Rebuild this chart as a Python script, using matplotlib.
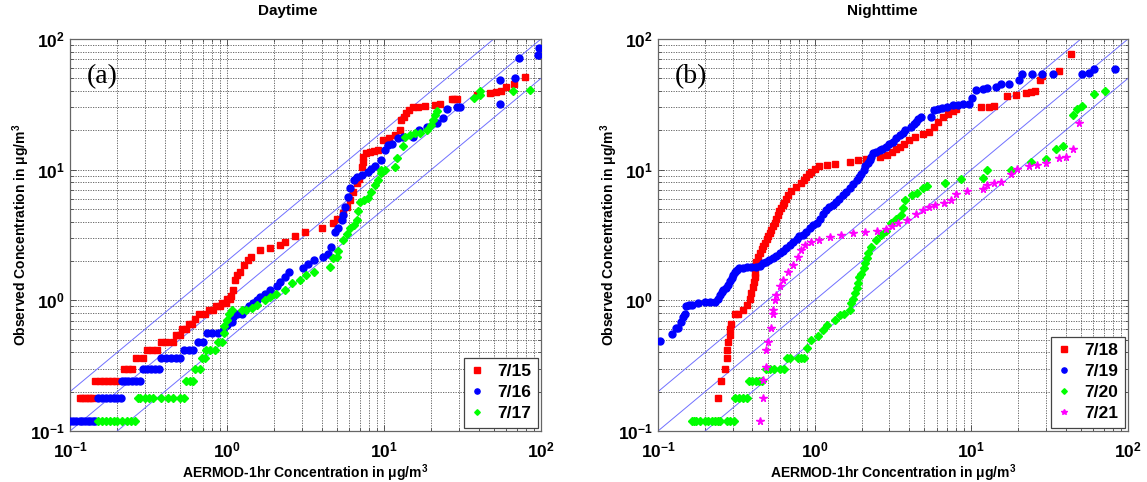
import matplotlib
matplotlib.use("Agg")
import matplotlib.pyplot as plt
import numpy as np

plt.rcParams['font.family'] = ['Liberation Sans', 'DejaVu Sans']
plt.rcParams['mathtext.fontset'] = 'custom'
plt.rcParams['mathtext.rm'] = 'Liberation Sans:bold'
plt.rcParams['mathtext.bf'] = 'Liberation Sans:bold'
plt.rcParams['mathtext.it'] = 'Liberation Sans:bold'

# ---------------- Daytime data ----------------
day15_x = [0.115, 0.12, 0.125, 0.13, 0.135, 0.14,
           0.145, 0.155, 0.165, 0.175, 0.185, 0.195,
           0.22, 0.235, 0.25, 0.265, 0.29, 0.31, 0.335, 0.36,
           0.38, 0.41, 0.45, 0.47, 0.5, 0.52, 0.55, 0.57, 0.6, 0.63,
           0.66, 0.72, 0.77, 0.82, 0.85, 0.9, 0.93, 0.98, 1.0, 1.05, 1.06,
           1.09, 1.12, 1.16, 1.21, 1.28, 1.36, 1.43, 1.62, 1.87, 2.17, 2.34,
           2.7, 3.15, 4.0, 4.7, 5.0, 5.5, 5.8, 6.1, 6.35, 6.7, 6.9, 7.2, 7.3,
           7.35, 7.7, 8.1, 8.6, 9.2, 9.9, 10.8, 11.8, 12.6, 12.9, 13.4, 13.9,
           14.5, 15.3, 16.5, 18.3, 21, 22.6, 27, 28, 29, 39, 47.5, 52, 56,
           59.5, 67.6, 79.5]
day15_y = [0.18, 0.18, 0.18, 0.18, 0.18, 0.18,
           0.24, 0.24, 0.24, 0.24, 0.24, 0.24,
           0.30, 0.30, 0.30, 0.36, 0.36, 0.42, 0.42, 0.42,
           0.48, 0.48, 0.48, 0.54, 0.54, 0.60, 0.60, 0.66, 0.66, 0.72,
           0.78, 0.78, 0.84, 0.84, 0.90, 0.90, 0.96, 0.96, 1.02, 1.02, 1.08,
           1.2, 1.43, 1.55, 1.65, 1.85, 2.04, 2.15, 2.43, 2.5, 2.65, 2.8,
           3.1, 3.35, 3.55, 3.9, 4.2, 4.65, 5.2, 5.86, 6.8, 7.9, 8.5, 10.5, 11.5,
           12.5, 13.5, 13.7, 13.9, 14.1, 16.9, 17.5, 18.5, 20, 24, 25.5, 27,
           28.5, 30, 30.3, 30.6, 31, 32, 34.5, 35, 35, 37, 38.6, 39, 40,
           43, 45, 51]

day16_x = [0.1, 0.105, 0.11, 0.115, 0.12, 0.125, 0.13, 0.135, 0.14, 0.145,
           0.15, 0.16, 0.17, 0.18, 0.19, 0.2, 0.21,
           0.215, 0.225, 0.235, 0.25, 0.265, 0.28,
           0.29, 0.31, 0.33, 0.35, 0.37,
           0.38, 0.41, 0.44, 0.47, 0.5,
           0.53, 0.57, 0.61, 0.65, 0.7,
           0.75, 0.8, 0.88, 0.94,
           1.0, 1.07, 1.09, 1.15, 1.24, 1.3, 1.38, 1.47, 1.55, 1.62, 1.75, 1.87,
           2.07, 2.17, 2.34, 2.5, 3.05, 3.3, 3.6, 4.1, 4.4, 4.6, 4.9, 5.1, 5.4,
           5.5, 5.65, 5.9, 6.1, 6.4, 6.7, 7.2, 7.9, 8.3, 8.8, 9.6, 10.1, 10.6,
           11.2, 12.3, 13.3, 15.4, 16.6, 18.8, 21.8, 23.9, 25.2, 29, 30.5,
           55, 55, 68, 72, 96, 97]
day16_y = [0.12] * 10 + [0.18] * 7 + [0.24] * 6 + [0.30] * 5 + [0.36] * 5 + \
          [0.42, 0.42, 0.42, 0.48, 0.48] + [0.56, 0.56, 0.56, 0.58] + \
          [0.65, 0.68, 0.75, 0.79, 0.79, 0.84, 0.9, 0.95, 1.0, 1.06, 1.12, 1.2,
           1.28, 1.37, 1.52, 1.65, 1.77, 1.9, 2.04, 2.15, 2.28, 2.58, 3.35, 3.55, 4.1,
           4.5, 5.2, 6.2, 7.2, 8.3, 8.8, 9.1, 9.6, 10.2, 10.6, 11.8, 14.1, 15.4,
           15.8, 17.4, 17.9, 17.9, 20, 21.3, 22.6, 24.8, 29, 30.4, 30.4,
           32, 48.6, 50, 72, 75, 85]

day17_x = [0.15, 0.16, 0.17, 0.18, 0.19, 0.2, 0.215, 0.23, 0.245, 0.26,
           0.27, 0.28, 0.3, 0.32, 0.34, 0.38, 0.42, 0.45, 0.5, 0.53,
           0.55, 0.58, 0.61, 0.63, 0.67, 0.69, 0.72, 0.74, 0.78, 0.84, 0.88, 0.93,
           0.95, 0.96, 1.0, 1.03, 1.07, 1.24, 1.33, 1.45, 1.55, 1.74, 1.87, 2.05,
           2.34, 2.6, 2.9, 3.2, 3.6, 4.5, 4.75, 5.0, 5.1, 5.5, 5.8, 6.1, 6.4, 6.7,
           6.8, 7.0, 7.5, 7.9, 8.3, 8.7, 9.1, 9.5, 9.6, 10.1, 11.8, 12.1, 13.2,
           13.6, 14.6, 15.8, 17, 18.8, 19.8, 20.5, 21, 21.7, 37.6, 40.6, 41,
           66, 84.5]
day17_y = [0.12] * 10 + [0.18] * 10 + [0.24, 0.24, 0.24, 0.30, 0.30, 0.36, 0.36,
           0.42, 0.42, 0.42, 0.48, 0.48] + \
          [0.56, 0.64, 0.71, 0.78, 0.84, 0.84, 0.84, 0.88, 0.92, 1.0, 1.06, 1.12,
           1.2, 1.36, 1.43, 1.55, 1.65, 1.8, 2.1, 2.15, 2.4, 2.9, 3.2, 3.56, 3.8, 4.15,
           4.8, 5.7, 5.9, 6.1, 6.8, 7.6, 8.3, 9.5, 10.0, 10.0, 10.4, 12.3, 15.1,
           17.9, 18.5, 19.2, 19.2, 20.2, 22, 24, 26.3, 27.9, 35.5, 37.6, 39.7,
           39.7, 41]

# ---------------- Nighttime data ----------------
n18_x = [0.239, 0.242, 0.254, 0.267, 0.274, 0.277, 0.28, 0.287, 0.29, 0.294,
         0.31, 0.324, 0.35, 0.37, 0.385, 0.395, 0.405, 0.41, 0.415, 0.415, 0.415,
         0.42, 0.435, 0.45, 0.46, 0.47, 0.48, 0.495, 0.505, 0.52, 0.53, 0.545,
         0.555, 0.57, 0.58, 0.595, 0.61, 0.625, 0.64, 0.66, 0.68, 0.71, 0.76,
         0.82, 0.85, 0.88, 0.92, 0.95, 1.0, 1.07, 1.19, 1.34, 1.67, 1.89, 2.14,
         2.6, 2.9, 3.1, 3.3, 3.5, 3.7, 4.0, 4.4, 4.9, 5.4, 5.8, 6.1, 6.6, 7.1,
         7.6, 8.0, 11.5, 13, 14, 17, 19.2, 22.3, 24, 25.5, 27.4, 28.3, 36.5, 43.2]
n18_y = [0.12, 0.18, 0.24, 0.30, 0.36, 0.42, 0.48, 0.54, 0.60, 0.66,
         0.78, 0.78, 0.84, 0.92, 1.02, 1.14, 1.26, 1.38, 1.5, 1.62, 1.8,
         1.98, 2.16, 2.3, 2.46, 2.6, 2.76, 2.94, 3.1, 3.3, 3.48, 3.7,
         3.9, 4.2, 4.5, 4.8, 5.1, 5.4, 5.6, 6.0, 6.4, 6.9, 7.4,
         7.9, 8.4, 8.8, 9.3, 9.6, 10.1, 10.6, 10.8, 11.0, 11.5, 11.8, 12.1,
         12.6, 12.9, 13.7, 14.3, 15, 15.8, 16.8, 17.9, 18.9, 19.3, 21.3, 23.3, 25.5, 26.5,
         27.9, 29, 30, 30.4, 30.6, 36.5, 37.5, 38.6, 39.5, 40, 48.6, 52, 56.5, 77]

n19_x = [0.103, 0.122, 0.13, 0.135, 0.141, 0.145, 0.148, 0.152, 0.158, 0.164,
         0.18, 0.199, 0.214, 0.23, 0.24, 0.248, 0.255, 0.26, 0.27, 0.28, 0.29,
         0.295, 0.3, 0.31, 0.32, 0.33, 0.35, 0.37, 0.395, 0.42, 0.445, 0.47,
         0.49, 0.51, 0.54, 0.57, 0.6, 0.63, 0.66, 0.7, 0.73, 0.77, 0.8, 0.84,
         0.88, 0.93, 0.98, 1.03, 1.08, 1.13, 1.18, 1.24, 1.3, 1.37, 1.44, 1.51,
         1.59, 1.67, 1.76, 1.85, 1.92, 1.99, 2.05, 2.1, 2.18, 2.25, 2.3, 2.35,
         2.45, 2.6, 2.7, 2.85, 3.0, 3.14, 3.3, 3.5, 3.65, 3.8, 4.1, 4.3, 4.45,
         4.6, 4.75, 5.5, 5.8, 6.1, 6.5, 7.0, 7.6, 8.2, 8.8, 9.6, 10.1, 10.7,
         11.8, 12.5, 14.3, 15.4, 17.5, 20.1, 21.1, 24.5, 28.3, 33, 51, 56, 60.5, 83]
n19_y = [0.49, 0.55, 0.61, 0.61, 0.68, 0.74, 0.79, 0.9, 0.92, 0.92,
         0.95, 0.97, 0.97, 0.97, 1.02, 1.1, 1.15, 1.2, 1.25, 1.3, 1.4,
         1.47, 1.55, 1.65, 1.72, 1.77, 1.78, 1.8, 1.8, 1.8, 1.82, 1.92,
         1.98, 2.03, 2.1, 2.2, 2.29, 2.4, 2.5, 2.65, 2.8, 2.95, 3.1, 3.15,
         3.35, 3.56, 3.75, 3.88, 4.2, 4.6, 4.9, 5.2, 5.4, 5.7, 6.0, 6.4,
         6.8, 7.2, 7.7, 8.3, 8.8, 9.3, 10.0, 10.6, 11.2, 11.8, 12.5, 13.3,
         13.7, 14.1, 14.5, 15, 15.7, 16.4, 17.4, 18.4, 19.2, 20, 21.3, 22.3, 23.3,
         24.4, 25.5, 25.5, 28.7, 29, 29.6, 30.3, 31, 31.5, 32, 32, 35.5, 40.6,
         41.7, 42, 43, 45.6, 45.6, 48.6, 53.7, 53.7, 53.7, 53.7, 53.7, 55, 58.5, 59]

n20_x = [0.165, 0.17, 0.175, 0.185, 0.2, 0.21, 0.22, 0.23, 0.24, 0.25, 0.275, 0.29, 0.305,
         0.31, 0.33, 0.35, 0.37,
         0.38, 0.40, 0.42, 0.44, 0.46,
         0.49, 0.52, 0.55, 0.6, 0.64,
         0.67, 0.7, 0.78, 0.82, 0.86,
         0.9, 0.95, 1.05, 1.13, 1.2, 1.34, 1.45, 1.55, 1.67, 1.71, 1.75, 1.8,
         1.85, 1.89, 1.93, 1.99, 2.05, 2.1, 2.15, 2.2, 2.3, 2.45, 2.66, 2.85,
         3.07, 3.3, 3.55, 3.66, 3.8, 4.2, 4.5, 4.9, 5.25, 6.8, 8.6, 11.8, 12.5,
         18, 23.9, 29.8, 34.6, 38.3, 44.5, 47.5, 51, 61, 71]
n20_y = [0.12] * 13 + [0.18] * 4 + [0.24] * 5 + [0.30] * 5 + [0.36] * 5 + \
        [0.43, 0.5, 0.53, 0.59, 0.65, 0.71, 0.77, 0.79, 0.84, 0.95, 1.03, 1.13,
         1.25, 1.35, 1.5, 1.6, 1.77, 1.93, 2.1, 2.29, 2.58, 2.9, 3.15, 3.4,
         3.88, 4.2, 4.5, 5.1, 5.86, 6.4, 6.6, 7.2, 7.5, 7.9, 8.5, 8.7, 10,
         10, 11.5, 12, 14.5, 15.1, 26.3, 29, 30.8, 38.2, 40]

n21_x = [0.447, 0.47, 0.47, 0.49, 0.49, 0.5, 0.53, 0.54, 0.545, 0.555, 0.57,
         0.6, 0.63, 0.675, 0.73, 0.78, 0.82, 0.865, 0.95, 1.07, 1.25, 1.47,
         1.75, 2.1, 2.5, 2.85, 3.1, 3.4, 3.9, 4.45, 4.9, 5.4, 5.9, 6.7, 7.4,
         8.0, 9.4, 11.8, 12.6, 14, 15.5, 17.9, 19.6, 23.4, 26.4, 29.8, 36.2,
         40, 44.5, 49]
n21_y = [0.12, 0.18, 0.245, 0.31, 0.42, 0.48, 0.61, 0.79, 0.84, 1.0, 1.1,
         1.28, 1.43, 1.65, 1.86, 2.15, 2.42, 2.65, 2.8, 2.9, 3.05, 3.15,
         3.26, 3.33, 3.42, 3.5, 3.7, 3.9, 4.15, 4.6, 4.95, 5.15, 5.35, 5.6, 5.86,
         6.5, 6.9, 7.1, 7.6, 7.9, 8.1, 9.2, 10.2, 10.6, 10.8, 11.3, 12.3,
         12.6, 14.5, 22.6]

day_labels = ['7/15', '7/16', '7/17']
night_labels = ['7/18', '7/19', '7/20', '7/21']
tick_vals = [0.1, 1, 10, 100]
tick_labels = [r'$\mathbf{10^{-1}}$', r'$\mathbf{10^{0}}$', r'$\mathbf{10^{1}}$', r'$\mathbf{10^{2}}$']

fig = plt.figure(figsize=(11.47, 4.82), dpi=100)
axL = fig.add_axes([70 / 1147, 51 / 482, 471 / 1147, 392 / 482])
axR = fig.add_axes([658 / 1147, 51 / 482, 470 / 1147, 392 / 482])

line_col = '#7070ff'
for ax in (axL, axR):
    ax.set_xscale('log')
    ax.set_yscale('log')
    ax.set_xlim(0.1, 100)
    ax.set_ylim(0.1, 100)
    ref = np.array([0.01, 1000.0])
    ax.plot(ref, ref, color=line_col, lw=0.7, zorder=2)
    ax.plot(ref, 2 * ref, color=line_col, lw=0.7, zorder=2)
    ax.plot(ref, 0.5 * ref, color=line_col, lw=0.7, zorder=2)
    ax.grid(True, which='both', linestyle=(0, (1.5, 1.5)), color='#555555', lw=0.6, zorder=0)
    ax.set_axisbelow(True)
    ax.set_xticks(tick_vals)
    ax.set_xticklabels(tick_labels)
    ax.set_yticks(tick_vals)
    ax.set_yticklabels(tick_labels)
    ax.tick_params(which='both', direction='in', top=True, right=True, labelsize=12.5, width=0.6,
                   colors='#444444', labelcolor='black')
    ax.tick_params(axis='x', which='major', pad=7)
    ax.tick_params(which='major', length=4)
    ax.tick_params(which='minor', length=2.5)
    for s in ax.spines.values():
        s.set_color('#666666')
        s.set_linewidth(0.9)
    ax.set_xlabel(r'AERMOD-1hr Concentration in $\mathbf{\mu}$g/m$^{\mathbf{3}}$',
                  fontsize=10, fontweight='bold', labelpad=1)
    ax.set_ylabel(r'Observed Concentration in $\mathbf{\mu}$g/m$^{\mathbf{3}}$',
                  fontsize=10, fontweight='bold', labelpad=-1)

msq = dict(linestyle='none', zorder=3)
axL.plot(day15_x, day15_y, 's', color='#ff0000', ms=5, mec='#ff0000', label=day_labels[0], **msq)
axL.plot(day16_x, day16_y, 'o', color='#0000ff', ms=5, mec='#0000ff', label=day_labels[1], **msq)
axL.plot(day17_x, day17_y, 'D', color='#00ff00', ms=3.8, mec='#00ff00', label=day_labels[2], **msq)

axR.plot(n18_x, n18_y, 's', color='#ff0000', ms=5, mec='#ff0000', label=night_labels[0], **msq)
axR.plot(n19_x, n19_y, 'o', color='#0000ff', ms=5, mec='#0000ff', label=night_labels[1], **msq)
axR.plot(n20_x, n20_y, 'D', color='#00ff00', ms=3.8, mec='#00ff00', label=night_labels[2], **msq)
axR.plot(n21_x, n21_y, '*', color='#ff00ff', ms=5.5, mec='#ff00ff', label=night_labels[3], **msq)

axL.set_title('Daytime', fontsize=11, fontweight='bold', pad=17, x=0.463)
axR.set_title('Nighttime', fontsize=11, fontweight='bold', pad=17, x=0.477)

axL.text(0.035, 0.905, '(a)', transform=axL.transAxes, fontsize=20, family='Liberation Serif',
         va='center', ha='left')
axR.text(0.035, 0.905, '(b)', transform=axR.transAxes, fontsize=20, family='Liberation Serif',
         va='center', ha='left')

for ax in (axL, axR):
    leg = ax.legend(loc='lower right', prop={'weight': 'bold', 'size': 12.5}, fancybox=False,
                    edgecolor='#444444', framealpha=1, borderaxespad=0.2, markerscale=0.75,
                    handlelength=0.9, handletextpad=0.7, labelspacing=0.35, borderpad=0.35)
    leg.get_frame().set_linewidth(0.9)

fig.savefig('out.png', dpi=100)
